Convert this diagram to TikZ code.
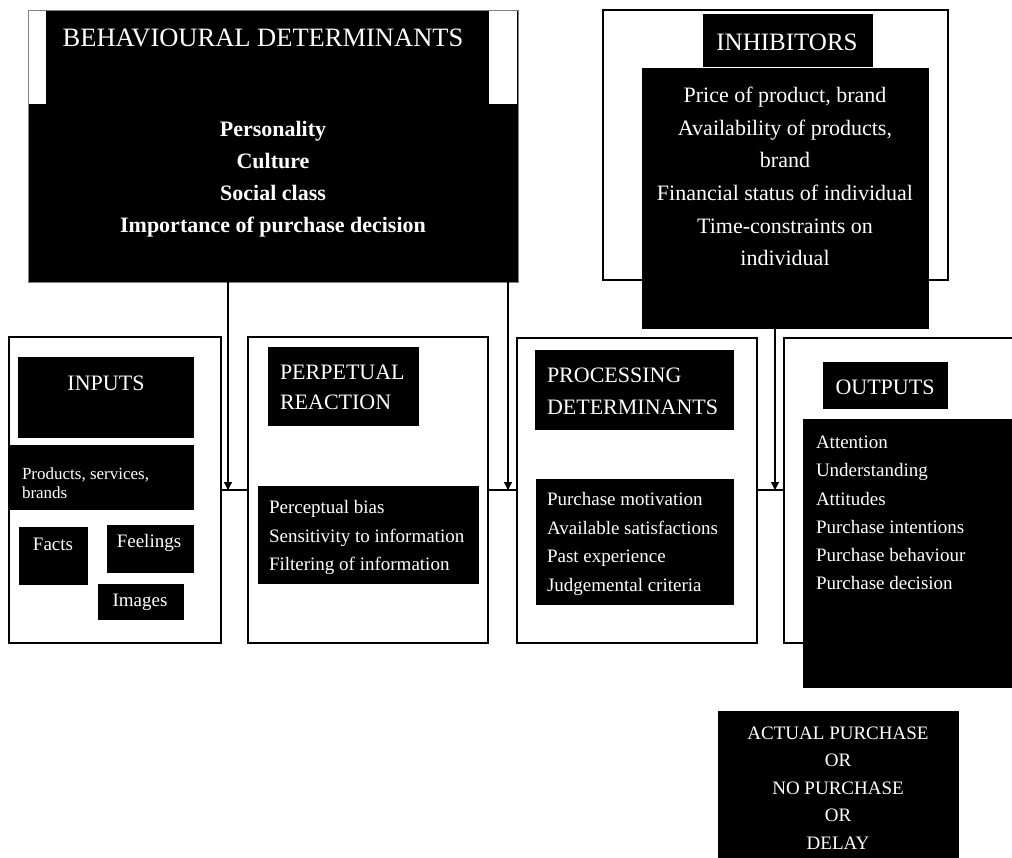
\documentclass[tikz,border=0pt]{standalone}
\usepackage{fontspec}
\setmainfont{Liberation Serif}
\usetikzlibrary{fit,arrows.meta}
\newcommand{\fsz}[2]{\fontsize{#1}{#2}\selectfont}
\begin{document}
\begin{tikzpicture}[x=1pt,y=-1pt,
 blk/.style={fill=black, draw=black, line width=0.6pt, inner sep=0pt, outer sep=0pt},
 frame/.style={draw=black, line width=1.6pt, inner sep=0pt, outer sep=0pt},
 wt/.style={text=white, inner sep=0pt, outer sep=0pt},
 conn/.style={draw=black, line width=1.2pt},
 arr/.style={conn, -{Triangle[width=8pt,length=8pt]}}]
\useasboundingbox (0,0) rectangle (1012,857);
% Behavioural determinants
\node[blk, draw=gray, line width=0.8pt, fit={(28,10) (518,282)}] (beh) {};
\fill[white] (28.6,10.6) rectangle (46,104);
\fill[white] (489,10.6) rectangle (517.4,104);
\node[wt, font=\fsz{26.5}{30}] (behT) at (263,38) {BEHAVIOURAL DETERMINANTS};
\node[wt, font=\fsz{22}{32}\bfseries, align=center] (behL) at (273,179) {Personality\\Culture\\Social class\\Importance of purchase decision};
% Inhibitors
\node[frame, fit={(603,10) (948,280)}] (inh) {};
\node[blk, fit={(703,14) (872,66)}] (inhT) {};
\node[wt, font=\fsz{25}{28}] at (787,42) {INHIBITORS};
\node[blk, fit={(642,68) (928,328)}] (inhL) {};
\node[wt, font=\fsz{22}{32.6}, align=center] at (785,176.5) {Price of product, brand\\Availability of products,\\brand\\Financial status of individual\\Time-constraints on\\individual};
% Inputs
\node[frame, fit={(9,337) (221,643)}] (inB) {};
\node[blk, fit={(18,357) (193,437)}] (inT) {};
\node[wt, font=\fsz{22}{26}] at (106,383) {INPUTS};
\node[blk, fit={(10,445) (193,509)}] (prod) {};
\node[wt, font=\fsz{17}{19}, align=left, anchor=west] at (22,483) {Products, services,\\brands};
\node[blk, fit={(19,527) (87,584)}] (facts) {};
\node[wt, font=\fsz{19}{22}] at (53,544) {Facts};
\node[blk, fit={(107,525) (193,572)}] (feel) {};
\node[wt, font=\fsz{19}{22}] at (149,543) {Feelings};
\node[blk, fit={(98,584) (183,619)}] (imgs) {};
\node[wt, font=\fsz{19}{22}] at (140,602) {Images};
% Perceptual reaction
\node[frame, fit={(248,337) (488,643)}] (perB) {};
\node[blk, fit={(268,347) (418,425)}] (perT) {};
\node[wt, font=\fsz{22}{30}, align=left, anchor=west] at (280,387) {PERPETUAL\\REACTION};
\node[blk, fit={(258,486) (478,583)}] (perL) {};
\node[wt, font=\fsz{19}{28.5}, align=left, anchor=west] at (269,537.5) {Perceptual bias\\Sensitivity to information\\Filtering of information};
% Processing determinants
\node[frame, fit={(517,338) (757,643)}] (proB) {};
\node[blk, fit={(535,350) (733,429)}] (proT) {};
\node[wt, font=\fsz{22}{32}, align=left, anchor=west] at (547,391) {PROCESSING\\DETERMINANTS};
\node[blk, fit={(536,479) (733,604)}] (proL) {};
\node[wt, font=\fsz{19}{28.7}, align=left, anchor=west] at (547,544) {Purchase motivation\\Available satisfactions\\Past experience\\Judgemental criteria};
% Outputs
\coordinate (outTR) at (1013,338);
\coordinate (outBL) at (803,643);
\coordinate (outW) at (784,490);
\draw[line width=1.6pt] (outTR) -- (784,338) -- (784,643) -- (outBL);
\node[blk, fit={(823,362) (947,408)}] (outT) {};
\node[wt, font=\fsz{22}{26}] at (885,387) {OUTPUTS};
\node[blk, fit={(803,419) (1013,687)}] (outL) {};
\node[wt, font=\fsz{19}{28.2}, align=left, anchor=west] at (816,513) {Attention\\Understanding\\Attitudes\\Purchase intentions\\Purchase behaviour\\Purchase decision};
% Result
\node[blk, fit={(718,711) (958,858)}] (act) {};
\node[wt, font=\fsz{19}{27.5}, align=center] at (838,788) {ACTUAL PURCHASE\\OR\\NO PURCHASE\\OR\\DELAY};
% Connectors
\coordinate (j1) at (228,490);
\coordinate (j2) at (508,490);
\coordinate (j3) at (775,490);
\draw[arr] (beh.south -| j1) -- (j1);
\draw[arr] (beh.south -| j2) -- (j2);
\draw[arr] (inhL.south -| j3) -- (j3);
\draw[conn] (inB.east |- j1) -- (perB.west |- j1);
\draw[conn] (perB.east |- j2) -- (proB.west |- j2);
\draw[conn] (proB.east |- j3) -- (outW);
\end{tikzpicture}
\end{document}
